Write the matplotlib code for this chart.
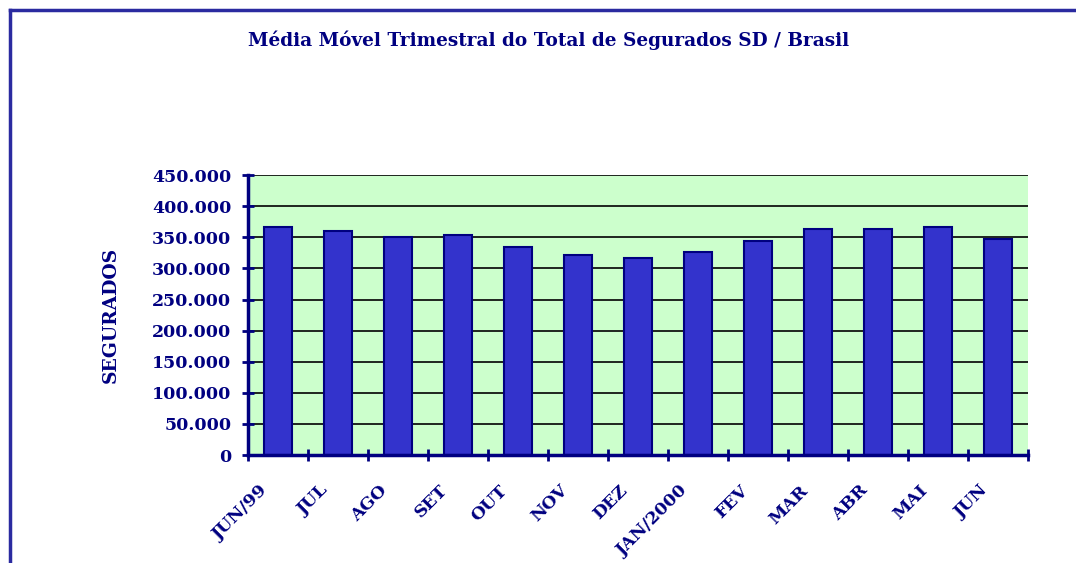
import matplotlib.pyplot as plt
from matplotlib.lines import Line2D
from matplotlib.ticker import FuncFormatter, MultipleLocator
import matplotlib.transforms as mtransforms

meses = ['JUN/99', 'JUL', 'AGO', 'SET', 'OUT', 'NOV', 'DEZ', 'JAN/2000',
         'FEV', 'MAR', 'ABR', 'MAI', 'JUN']
segurados = [366000, 360000, 350500, 354000, 335000, 322000, 316000,
             326000, 344000, 363000, 363000, 366000, 348000]

navy = '#000080'
plt.rcParams['font.family'] = 'DejaVu Serif'
plt.rcParams['font.weight'] = 'bold'

fig = plt.figure(figsize=(10.76, 5.63), dpi=100)
ax = fig.add_axes([0.2305, 0.1918, 0.7249, 0.4972])
ax.set_facecolor('#CCFFCC')

x = range(len(meses))
ax.bar(x, segurados, width=0.48, color='#3333CC', edgecolor=navy, linewidth=1.5, zorder=3)

ax.set_ylim(0, 450000)
ax.set_xlim(-0.5, len(meses) - 0.5)
ax.yaxis.set_major_locator(MultipleLocator(50000))
ax.yaxis.set_major_formatter(FuncFormatter(lambda v, p: f'{int(v):,}'.replace(',', '.')))
ax.grid(axis='y', color='black', linewidth=1.2, zorder=1)

for s in ['top', 'right']:
    ax.spines[s].set_visible(False)
for s in ['left', 'bottom']:
    ax.spines[s].set_color(navy)
    ax.spines[s].set_linewidth(2.5)
    ax.spines[s].set_zorder(4)

ax.tick_params(axis='y', direction='inout', length=8, width=2, color=navy,
               labelcolor=navy, labelsize=12.5, pad=8)
ax.set_xticks([i - 0.5 for i in range(len(meses) + 1)])
ax.set_xticklabels([])
ax.tick_params(axis='x', direction='inout', length=8, width=2, color=navy)

# rotated month labels, anchored just left of each bar's centre
off = mtransforms.offset_copy(ax.get_xaxis_transform(), fig=fig, x=-19, y=-27, units='dots')
for i, m in enumerate(meses):
    ax.text(i, 0, m, transform=off, rotation=45, rotation_mode='anchor',
            ha='right', va='top', color=navy, fontsize=12.5, fontweight='bold')

ax.set_ylabel('SEGURADOS', color=navy, fontsize=13.5, fontweight='bold', labelpad=23)

fig.text(0.510, 0.928, 'Média Móvel Trimestral do Total de Segurados SD / Brasil',
         ha='center', va='center', color=navy, fontsize=13.3, fontweight='bold')

# frame around the chart (right and bottom edges fall outside the picture)
fig.add_artist(Line2D([10 / 1076, 1.0], [1 - 10 / 563] * 2, transform=fig.transFigure,
                      color='#2A2AA0', linewidth=2.5))
fig.add_artist(Line2D([10 / 1076] * 2, [0, 1 - 10 / 563], transform=fig.transFigure,
                      color='#2A2AA0', linewidth=2.5))

fig.savefig('out.png', dpi=100)
